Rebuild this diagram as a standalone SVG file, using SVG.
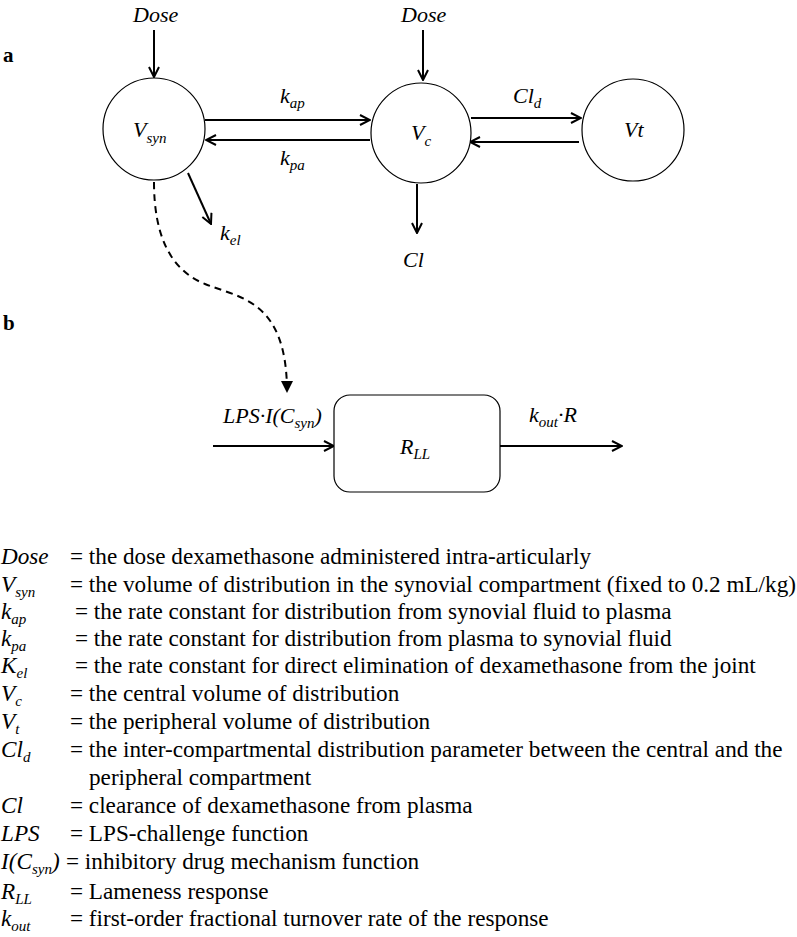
<svg xmlns="http://www.w3.org/2000/svg" width="797" height="937" viewBox="0 0 797 937">
<style>
text{font-family:"Liberation Serif","Times New Roman",serif;fill:#000}
.it{font-style:italic;font-size:22px}
.lab{font-weight:bold;font-size:21px}
.sub{font-size:15px}
.leg{font-size:23.2px}
.lsub{font-size:15px}
.node{fill:#fff;stroke:#000;stroke-width:1.2}
.arr{fill:none;stroke:#000;stroke-width:2;marker-end:url(#open)}
.dash{fill:none;stroke:#000;stroke-width:2;stroke-dasharray:7 5;marker-end:url(#solid)}
</style>
<defs>
<marker id="open" viewBox="0 0 12 12" refX="11" refY="6" markerWidth="12" markerHeight="12" markerUnits="userSpaceOnUse" orient="auto">
<path d="M1,1 L11,6 L1,11" fill="none" stroke="#000" stroke-width="2"/>
</marker>
<marker id="solid" viewBox="0 0 12 12" refX="11" refY="6" markerWidth="12" markerHeight="12" markerUnits="userSpaceOnUse" orient="auto">
<path d="M0,0 L12,6 L0,12 Z" fill="#000"/>
</marker>
</defs>
<rect width="797" height="937" fill="#fff"/>
<text class="lab" x="3" y="62">a</text>
<text class="lab" x="3" y="330">b</text>
<g id="connectors">
<line class="arr" x1="154" y1="30" x2="154" y2="77"/>
<line class="arr" x1="423" y1="30" x2="423" y2="80"/>
<line class="arr" x1="205" y1="120" x2="370" y2="120"/>
<line class="arr" x1="370" y1="140" x2="206" y2="140"/>
<line class="arr" x1="471" y1="118" x2="581" y2="118"/>
<line class="arr" x1="579" y1="142" x2="470" y2="142"/>
<line class="arr" x1="188" y1="173" x2="211" y2="224"/>
<line class="arr" x1="417" y1="184" x2="417" y2="233"/>
<path class="dash" d="M154,182 C154,235 170,270 205,284 C240,298 287,300 287,392"/>
<line class="arr" x1="213" y1="446" x2="334" y2="446"/>
<line class="arr" x1="500" y1="446" x2="622" y2="446"/>
</g>
<g id="labels">
<text class="it" x="133" y="22">Dose</text>
<text class="it" x="401" y="22">Dose</text>
<text class="it" x="280" y="103">k<tspan class="sub" dy="5">ap</tspan></text>
<text class="it" x="280" y="165">k<tspan class="sub" dy="5">pa</tspan></text>
<text class="it" x="513" y="103">Cl<tspan class="sub" dy="5">d</tspan></text>
<text class="it" x="220" y="240">k<tspan class="sub" dy="5">el</tspan></text>
<text class="it" x="403" y="267">Cl</text>
<text class="it" x="223" y="423">LPS·I(C<tspan class="sub" dy="5">syn</tspan><tspan dy="-5">)</tspan></text>
<text class="it" x="529" y="422">k<tspan class="sub" dy="5">out</tspan><tspan dy="-5">·R</tspan></text>
</g>
<g id="Vsyn">
<circle class="node" cx="154" cy="129" r="51"/>
<text class="it" x="133" y="137">V<tspan class="sub" dy="6">syn</tspan></text>
</g>
<g id="Vc">
<circle class="node" cx="421" cy="133" r="50"/>
<text class="it" x="411" y="140">V<tspan class="sub" dy="6">c</tspan></text>
</g>
<g id="Vt">
<circle class="node" cx="633" cy="130" r="51"/>
<text class="it" x="624" y="137">Vt</text>
</g>
<g id="RLL">
<rect class="node" x="334" y="395" width="166" height="97" rx="16"/>
<text class="it" x="400" y="454">R<tspan class="sub" dy="5">LL</tspan></text>
</g>
<g id="legend" class="leg">
<text class="it leg" x="1" y="564">Dose</text>
<text x="70" y="564">= the dose dexamethasone administered intra-articularly</text>
<text class="it leg" x="1" y="592">V<tspan class="lsub" dy="5">syn</tspan></text>
<text x="70" y="592">= the volume of distribution in the synovial compartment (fixed to 0.2 mL/kg)</text>
<text class="it leg" x="1" y="619">k<tspan class="lsub" dy="5">ap</tspan></text>
<text x="75" y="619">= the rate constant for distribution from synovial fluid to plasma</text>
<text class="it leg" x="1" y="646">k<tspan class="lsub" dy="5">pa</tspan></text>
<text x="75" y="646">= the rate constant for distribution from plasma to synovial fluid</text>
<text class="it leg" x="1" y="673">K<tspan class="lsub" dy="5">el</tspan></text>
<text x="75" y="673">= the rate constant for direct elimination of dexamethasone from the joint</text>
<text class="it leg" x="1" y="701">V<tspan class="lsub" dy="5">c</tspan></text>
<text x="70" y="701">= the central volume of distribution</text>
<text class="it leg" x="1" y="729">V<tspan class="lsub" dy="5">t</tspan></text>
<text x="70" y="729">= the peripheral volume of distribution</text>
<text class="it leg" x="1" y="757">Cl<tspan class="lsub" dy="5">d</tspan></text>
<text x="70" y="757">= the inter-compartmental distribution parameter between the central and the</text>
<text x="89" y="785">peripheral compartment</text>
<text class="it leg" x="1" y="813">Cl</text>
<text x="70" y="813">= clearance of dexamethasone from plasma</text>
<text class="it leg" x="1" y="841">LPS</text>
<text x="70" y="841">= LPS-challenge function</text>
<text class="it leg" x="1" y="869">I(C<tspan class="lsub" dy="5">syn</tspan><tspan dy="-5">)</tspan></text>
<text x="66" y="869">= inhibitory drug mechanism function</text>
<text class="it leg" x="1" y="899">R<tspan class="lsub" dy="5">LL</tspan></text>
<text x="70" y="899">= Lameness response</text>
<text class="it leg" x="1" y="926">k<tspan class="lsub" dy="5">out</tspan></text>
<text x="70" y="926">= first-order fractional turnover rate of the response</text>
</g>
</svg>
